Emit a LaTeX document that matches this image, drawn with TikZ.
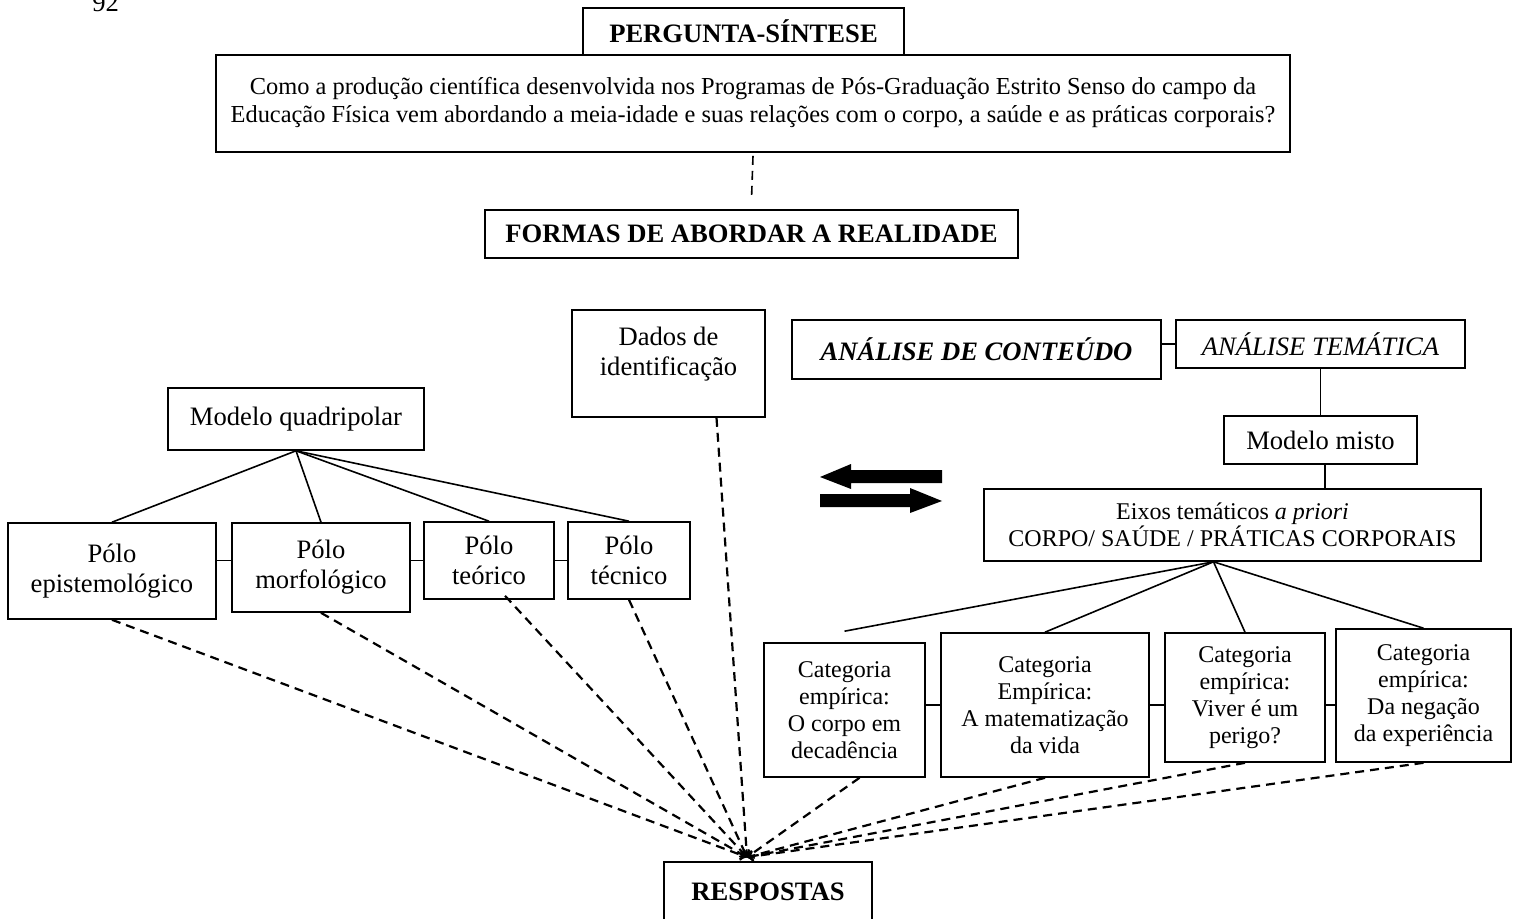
\documentclass[tikz,border=0pt]{standalone}
\usepackage{fontspec}
\setmainfont{Liberation Serif}
\begin{document}
\begin{tikzpicture}[x=0.5pt, y=-0.5pt,
        box/.style={draw, line width=0.8pt, align=center, inner sep=0pt,
            font=\fontsize{13.3}{15}\selectfont},
        smallbox/.style={box, font=\fontsize{12}{13.5}\selectfont},
        dashline/.style={dash pattern=on 4.5pt off 3pt, line width=1.1pt},
        link/.style={line width=0.8pt}]

        \useasboundingbox (0,0) rectangle (1513,919);

        % Page number
        \node[anchor=base west, inner sep=0pt, font=\fontsize{13.3}{15}\selectfont] (page) at (92,12) {92};

        % Question
        \node[box, minimum width=537pt, minimum height=48.5pt, font=\fontsize{12.2}{14}\selectfont] (quest) at (753,103.5)
            {Como a produção científica desenvolvida nos Programas de Pós-Graduação Estrito Senso do campo da\\
             Educação Física vem abordando a meia-idade e suas relações com o corpo, a saúde e as práticas corporais?\\[-10pt]};
        \node[box, fill=white, minimum width=160.5pt, minimum height=23.5pt, font=\bfseries\fontsize{13.3}{15}\selectfont] (perg) at (743.5,31.5) {PERGUNTA-SÍNTESE};
        \node[box, minimum width=266.5pt, minimum height=24pt, font=\bfseries\fontsize{13.3}{15}\selectfont] (formas) at (751.5,234) {FORMAS DE ABORDAR A REALIDADE};
        \draw[dashline, line width=0.8pt] ([yshift=-1.5pt]quest.south) -- ([yshift=5pt]formas.north);

        % Quadripolar model
        \node[box, minimum width=128pt, minimum height=31pt] (quad) at (296,419) {Modelo quadripolar};
        \node[box, minimum width=104pt, minimum height=48pt] (epist) at (112,571) {Pólo\\epistemológico};
        \node[box, minimum width=89pt, minimum height=44.5pt] (morf) at (321,567.5) {Pólo\\morfológico};
        \node[box, minimum width=65pt, minimum height=38.5pt] (teor) at (489,560.5) {Pólo\\teórico};
        \node[box, minimum width=61pt, minimum height=38.5pt] (tecn) at (629,560.5) {Pólo\\técnico};
        \foreach \p in {epist, morf, teor, tecn}{
            \draw[link] (quad.south) -- (\p.north);
        }
        \draw[link] (epist.east |- teor.west) -- (morf.west |- teor.west);
        \draw[link] (morf.east |- teor.west) -- (teor.west);
        \draw[link] (teor.east) -- (tecn.west);

        \node[box, minimum width=96.5pt, minimum height=53.5pt] (dados) at (668.5,363.5) {Dados de\\identificação\\[-2.5pt]};

        % Content analysis
        \node[box, minimum width=184.5pt, minimum height=29.5pt, font=\bfseries\itshape\fontsize{13.3}{15}\selectfont] (conteudo) at (976.5,349.5) {ANÁLISE DE CONTEÚDO};
        \node[box, minimum width=144.5pt, minimum height=24pt, font=\itshape\fontsize{13.3}{15}\selectfont] (tematica) at (1320.5,344) {ANÁLISE TEMÁTICA};
        \node[box, minimum width=96.5pt, minimum height=24pt] (misto) at (1320.5,440) {Modelo misto};
        \node[smallbox, minimum width=248.5pt, minimum height=36pt] (eixos) at (1232.5,525) {Eixos temáticos \textit{a priori}\\CORPO/ SAÚDE / PRÁTICAS CORPORAIS};
        \draw[link] (conteudo.east |- tematica.west) -- (tematica.west);
        \draw[link] (tematica) -- (misto);
        \draw[link] ([xshift=2.25pt]misto.south) -- ([xshift=2.25pt]misto.south |- eixos.north);

        % Exchange arrows
        \fill (820,477) -- (851,464) -- (851,470) -- (942,470) -- (942,483) -- (851,483) -- (851,489) -- cycle;
        \fill (942,501) -- (910,488) -- (910,494) -- (820,494) -- (820,507) -- (910,507) -- (910,513) -- cycle;

        % Empirical categories
        \node[smallbox, minimum width=80.5pt, minimum height=67pt] (cat1) at (844.5,710) {Categoria\\empírica:\\O corpo em\\decadência};
        \node[smallbox, minimum width=104pt, minimum height=72pt] (cat2) at (1045,705) {Categoria\\Empírica:\\A matematização\\da vida};
        \node[smallbox, minimum width=80pt, minimum height=64.5pt] (cat3) at (1245,697.5) {Categoria\\empírica:\\Viver é um\\perigo?};
        \node[smallbox, minimum width=87.5pt, minimum height=66.5pt] (cat4) at (1423.5,695.5) {Categoria\\empírica:\\Da negação\\da experiência};
        \coordinate (fan) at ([xshift=-9.5pt]eixos.south);
        \draw[link] (fan) -- ([yshift=5.5pt]cat1.north);
        \foreach \c in {cat2, cat3, cat4}{
            \draw[link] (fan) -- (\c.north);
        }
        \draw[link] (cat1.east |- cat2.west) -- (cat2.west);
        \draw[link] (cat2.east) -- (cat3.west |- cat2.east);
        \draw[link] (cat3.east |- cat2.east) -- (cat4.west |- cat2.east);

        % Answers
        \node[box, minimum width=104pt, minimum height=30pt, font=\bfseries\fontsize{13.3}{15}\selectfont] (resp) at (768,892) {RESPOSTAS};
        \coordinate (hub) at ([xshift=-10.5pt, yshift=2pt]resp.north);
        \foreach \s in {epist, morf, tecn, cat2, cat3, cat4}{
            \draw[dashline, ->] (\s.south) -- (hub);
        }
        \draw[dashline, ->] ([xshift=8pt, yshift=2pt]teor.south) -- (hub);
        \draw[dashline, ->] ([xshift=24pt]dados.south) -- (hub);
        \draw[dashline, ->] ([xshift=7.5pt]cat1.south) -- (hub);

    \end{tikzpicture}
\end{document}
